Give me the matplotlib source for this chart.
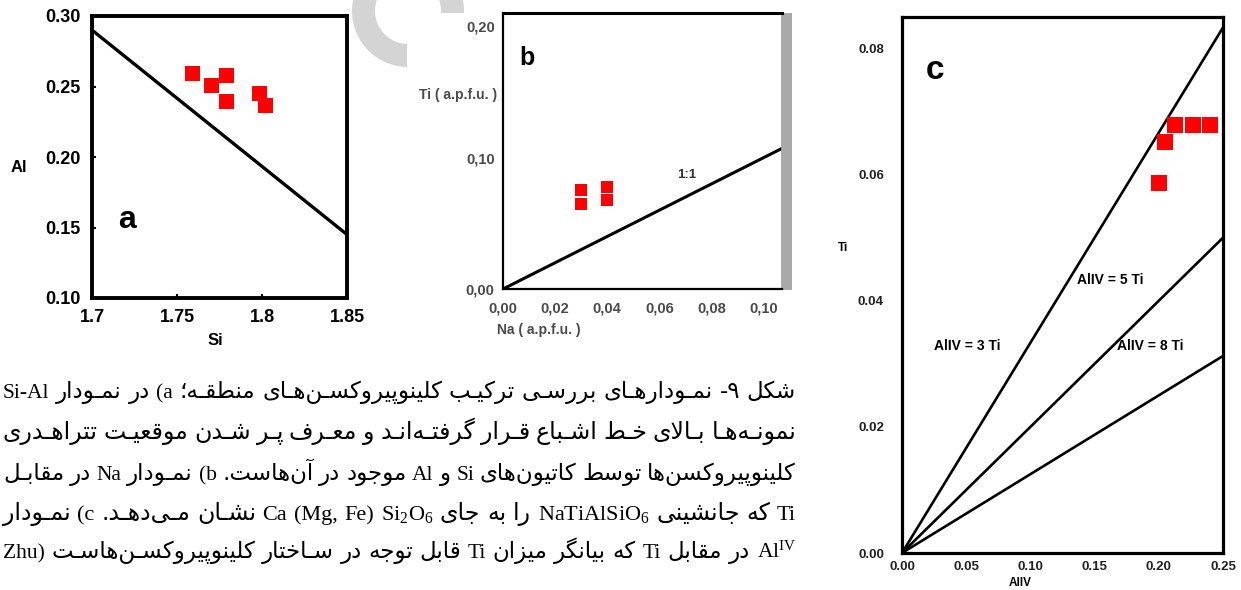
import matplotlib
matplotlib.use('Agg')
import matplotlib.pyplot as plt
from matplotlib.patches import Rectangle, Wedge
from matplotlib.transforms import IdentityTransform

W, H = 1241, 590

plt.rcParams['font.family'] = ['Liberation Sans', 'DejaVu Sans']
plt.rcParams['mathtext.fontset'] = 'custom'
plt.rcParams['mathtext.rm'] = 'Liberation Serif'
plt.rcParams['mathtext.it'] = 'Liberation Serif:italic'

# (a) Si vs Al with the saturation line
si = [1.759, 1.770, 1.779, 1.779, 1.798, 1.802]
al = [0.2595, 0.2513, 0.2581, 0.2394, 0.2457, 0.2368]
sat_si = [1.70, 1.85]
sat_al = [0.290, 0.145]
a_xticks = [1.7, 1.75, 1.8, 1.85]
a_xlabels = ['1.7', '1.75', '1.8', '1.85']
a_yticks = [0.10, 0.15, 0.20, 0.25, 0.30]
a_ylabels = ['0.10', '0.15', '0.20', '0.25', '0.30']

# (b) Na vs Ti (a.p.f.u.) with the 1:1 line
na = [0.030, 0.030, 0.040, 0.040]
ti_b = [0.0755, 0.0643, 0.0774, 0.0677]
one_to_one = [0.0, 0.107]
b_xticks = [0.00, 0.02, 0.04, 0.06, 0.08, 0.10]
b_xlabels = ['0,00', '0,02', '0,04', '0,06', '0,08', '0,10']
b_yticks = [0.00, 0.10, 0.20]
b_ylabels = ['0,00', '0,10', '0,20']

# (c) AlIV vs Ti with AlIV = n Ti reference lines
aliv = [0.213, 0.227, 0.240, 0.205, 0.200]
ti_c = [0.0678, 0.0679, 0.0679, 0.0651, 0.0587]
ratios = [3, 5, 8]
c_xticks = [0.00, 0.05, 0.10, 0.15, 0.20, 0.25]
c_yticks = [0.00, 0.02, 0.04, 0.06, 0.08]

# caption, logical order, split into rtl / ltr runs
caption = [
    [('fa', 'شکل ۹- نمـودارهـای بررسـی ترکیـب کلینوپیروکسـن‌هـای منطقـه؛ '), ('en', 'a'),
     ('fa', ') در نمـودار '), ('en', 'Si-Al')],
    [('fa', 'نمونـه‌هـا بـالای خـط اشـباع قـرار گرفتـه‌انـد و معـرف پـر شـدن موقعیـت تتراهـدری')],
    [('fa', 'کلینوپیروکسن‌ها توسط کاتیون‌های '), ('en', 'Si'), ('fa', ' و '), ('en', 'Al'),
     ('fa', ' موجود در آن‌هاست. '), ('en', 'b'), ('fa', ') نمـودار '), ('en', 'Na'),
     ('fa', ' در مقابـل')],
    [('en', 'Ti'), ('fa', ' که جانشینی '), ('en', r'NaTiAlSiO$_6$'), ('fa', ' را به جای '),
     ('en', r'Ca (Mg, Fe) Si$_2$O$_6$'), ('fa', ' نشـان مـی‌دهـد. '), ('en', 'c'),
     ('fa', ') نمـودار')],
    [('en', r'Al$^{\mathrm{IV}}$'), ('fa', ' در مقابل '), ('en', 'Ti'), ('fa', ' که بیانگر میزان '),
     ('en', 'Ti'), ('fa', ' قابل توجه در سـاختار کلینوپیروکسـن‌هاسـت  ('), ('en', 'Zhu')],
]
caption_baselines = [398, 439, 480, 520, 558]

# isolated, final, initial, medial presentation forms
FORMS = {
    0x0622: (0xFE81, 0xFE82, None, None),
    0x0627: (0xFE8D, 0xFE8E, None, None),
    0x0628: (0xFE8F, 0xFE90, 0xFE91, 0xFE92),
    0x067E: (0xFB56, 0xFB57, 0xFB58, 0xFB59),
    0x062A: (0xFE95, 0xFE96, 0xFE97, 0xFE98),
    0x062B: (0xFE99, 0xFE9A, 0xFE9B, 0xFE9C),
    0x062C: (0xFE9D, 0xFE9E, 0xFE9F, 0xFEA0),
    0x0686: (0xFB7A, 0xFB7B, 0xFB7C, 0xFB7D),
    0x062D: (0xFEA1, 0xFEA2, 0xFEA3, 0xFEA4),
    0x062E: (0xFEA5, 0xFEA6, 0xFEA7, 0xFEA8),
    0x062F: (0xFEA9, 0xFEAA, None, None),
    0x0630: (0xFEAB, 0xFEAC, None, None),
    0x0631: (0xFEAD, 0xFEAE, None, None),
    0x0632: (0xFEAF, 0xFEB0, None, None),
    0x0698: (0xFB8A, 0xFB8B, None, None),
    0x0633: (0xFEB1, 0xFEB2, 0xFEB3, 0xFEB4),
    0x0634: (0xFEB5, 0xFEB6, 0xFEB7, 0xFEB8),
    0x0635: (0xFEB9, 0xFEBA, 0xFEBB, 0xFEBC),
    0x0636: (0xFEBD, 0xFEBE, 0xFEBF, 0xFEC0),
    0x0637: (0xFEC1, 0xFEC2, 0xFEC3, 0xFEC4),
    0x0638: (0xFEC5, 0xFEC6, 0xFEC7, 0xFEC8),
    0x0639: (0xFEC9, 0xFECA, 0xFECB, 0xFECC),
    0x063A: (0xFECD, 0xFECE, 0xFECF, 0xFED0),
    0x0641: (0xFED1, 0xFED2, 0xFED3, 0xFED4),
    0x0642: (0xFED5, 0xFED6, 0xFED7, 0xFED8),
    0x06A9: (0xFB8E, 0xFB8F, 0xFB90, 0xFB91),
    0x06AF: (0xFB92, 0xFB93, 0xFB94, 0xFB95),
    0x0644: (0xFEDD, 0xFEDE, 0xFEDF, 0xFEE0),
    0x0645: (0xFEE1, 0xFEE2, 0xFEE3, 0xFEE4),
    0x0646: (0xFEE5, 0xFEE6, 0xFEE7, 0xFEE8),
    0x0648: (0xFEED, 0xFEEE, None, None),
    0x0647: (0xFEE9, 0xFEEA, 0xFEEB, 0xFEEC),
    0x06CC: (0xFBFC, 0xFBFD, 0xFBFE, 0xFBFF),
    0x0640: (0x0640, 0x0640, 0x0640, 0x0640),
}
LAM_ALEF = {'ا': (0xFEFB, 0xFEFC), 'آ': (0xFEF5, 0xFEF6)}
MIRROR = {'(': ')', ')': '('}


def joins_next(c):
    f = FORMS.get(ord(c)) if c else None
    return f is not None and f[2] is not None


def shape_fa(text):
    out = []
    i, n = 0, len(text)
    while i < n:
        c = text[i]
        f = FORMS.get(ord(c))
        if f is None:
            if c != '\u200c':
                out.append(c)
            i += 1
            continue
        link_prev = i > 0 and joins_next(text[i - 1])
        nxt = text[i + 1] if i + 1 < n else ''
        if c == 'ل' and nxt in LAM_ALEF:
            out.append(chr(LAM_ALEF[nxt][1 if link_prev else 0]))
            i += 2
            continue
        link_next = f[2] is not None and nxt != '' and ord(nxt) in FORMS
        if link_prev and link_next:
            out.append(chr(f[3]))
        elif link_prev:
            out.append(chr(f[1]))
        elif link_next:
            out.append(chr(f[2]))
        else:
            out.append(chr(f[0]))
        i += 1
    return ''.join(MIRROR.get(c, c) for c in reversed(out))


def visual_line(segments):
    return ''.join(shape_fa(s) if lang == 'fa' else s for lang, s in reversed(segments))


def is_arabic(tok):
    return any(0x0600 <= ord(c) <= 0x06FF or 0xFB50 <= ord(c) <= 0xFEFF for c in tok)


def px_rect(l, t, r, b):
    return [l / W, 1 - b / H, (r - l) / W, (b - t) / H]


fig = plt.figure(figsize=(W / 100, H / 100), dpi=100)
fig.patch.set_facecolor('white')

# faint watermark ring, partly covered by the (b) image box
fig.patches.append(Wedge((408, H - 11), 56, 0, 360, width=23, transform=IdentityTransform(),
                         facecolor='#d4d4d4', edgecolor='none', zorder=0))
fig.patches.append(Rectangle((407, H - 345), 393, 332, transform=IdentityTransform(),
                             facecolor='white', edgecolor='none', zorder=1))
fig.patches.append(Rectangle((783, H - 290), 9, 277, transform=IdentityTransform(),
                             facecolor='#a9a9a9', edgecolor='none', zorder=2))

# ---- (a)
ax = fig.add_axes(px_rect(92, 16, 347, 298))
ax.plot(sat_si, sat_al, color='black', lw=2.4, solid_capstyle='butt')
ax.plot(si, al, 's', color='#ff0000', ms=10.8, mew=0)
ax.set_xlim(1.7, 1.85)
ax.set_ylim(0.10, 0.30)
ax.set_xticks(a_xticks, a_xlabels)
ax.set_yticks(a_yticks, a_ylabels)
ax.tick_params(direction='in', length=3, width=1.5, labelsize=13, pad=8)
for lab in ax.get_xticklabels() + ax.get_yticklabels():
    lab.set_fontweight('bold')
for sp in ax.spines.values():
    sp.set_linewidth(2.8)
ax.text(-0.286, 0.461, 'Al', transform=ax.transAxes, fontsize=12, fontweight='bold',
        ha='center', va='center')
ax.text(0.482, -0.152, 'Si', transform=ax.transAxes, fontsize=12, fontweight='bold',
        ha='center', va='center')
ax.text(1.7206, 0.1496, 'a', fontsize=23, fontweight='bold', ha='center', va='baseline')

# ---- (b)
ax = fig.add_axes(px_rect(503, 13, 782, 289))
ax.set_zorder(3)
ax.plot(one_to_one, one_to_one, color='black', lw=2.2, solid_capstyle='butt')
ax.plot(na, ti_b, 's', color='#ff0000', ms=8.8, mew=0)
ax.set_xlim(0, 0.107)
ax.set_ylim(0, 0.21)
ax.set_xticks(b_xticks, b_xlabels)
ax.set_yticks(b_yticks, b_ylabels)
ax.tick_params(length=0, labelsize=10.5, labelcolor='#4a4a4a', pad=6)
ax.tick_params(axis='x', pad=9)
for lab in ax.get_xticklabels() + ax.get_yticklabels():
    lab.set_fontweight('bold')
for side in ('left', 'bottom', 'top'):
    ax.spines[side].set_linewidth(1.6)
ax.spines['top'].set_linewidth(2.2)
ax.spines['right'].set_color('#9a9a9a')
ax.spines['right'].set_linewidth(1.2)
ax.text(-0.022, 0.703, 'Ti ( a.p.f.u. )', transform=ax.transAxes, fontsize=10,
        fontweight='bold', color='#4a4a4a', ha='right', va='center')
ax.text(-0.022, -0.149, 'Na ( a.p.f.u. )', transform=ax.transAxes, fontsize=10,
        fontweight='bold', color='#4a4a4a', ha='left', va='center')
ax.text(0.0706, 0.0867, '1:1', fontsize=9.5, fontweight='bold', color='#333333',
        ha='center', va='center')
ax.text(0.0092, 0.1704, 'b', fontsize=18, fontweight='bold', ha='center', va='baseline')

# ---- (c)
ax = fig.add_axes(px_rect(902, 17, 1223, 553))
for r in ratios:
    ax.plot([0, 0.25], [0, 0.25 / r], color='black', lw=1.9, solid_capstyle='butt')
ax.plot(aliv, ti_c, 's', color='#ff0000', ms=11.5, mew=0)
ax.set_xlim(0, 0.25)
ax.set_ylim(0, 0.085)
ax.set_xticks(c_xticks, [f'{v:.2f}' for v in c_xticks])
ax.set_yticks(c_yticks, [f'{v:.2f}' for v in c_yticks])
ax.tick_params(length=0, labelsize=9.5, labelcolor='#222222')
ax.tick_params(axis='y', pad=13)
ax.tick_params(axis='x', pad=6)
for lab in ax.get_xticklabels() + ax.get_yticklabels():
    lab.set_fontweight('bold')
for sp in ax.spines.values():
    sp.set_linewidth(2.3)
for label, x, y in [('AlIV = 3 Ti', 0.0506, 0.0328), ('AlIV = 5 Ti', 0.162, 0.0433),
                    ('AlIV = 8 Ti', 0.193, 0.0328)]:
    ax.text(x, y, label, fontsize=10, fontweight='bold', ha='center', va='center')
ax.text(-0.184, 0.569, 'Ti', transform=ax.transAxes, fontsize=8.5, fontweight='bold',
        ha='center', va='center')
ax.text(0.368, -0.056, 'AlIV', transform=ax.transAxes, fontsize=8.5, fontweight='bold',
        ha='center', va='center')
ax.text(0.0257, 0.0752, 'c', fontsize=24, fontweight='bold', ha='center', va='baseline')

# ---- caption, justified between left and right edges
renderer = fig.canvas.get_renderer()
x_left, x_right = 3, 796
for segs, base in zip(caption, caption_baselines):
    tokens = [t for t in visual_line(segs).split(' ') if t]
    scale = 1.0
    while True:
        texts = []
        for tok in tokens:
            if is_arabic(tok):
                t = fig.text(0, 1 - base / H, tok, fontsize=17 * scale, family=['DejaVu Sans'],
                             va='baseline', ha='left')
            else:
                t = fig.text(0, 1 - base / H, tok, fontsize=16 * scale,
                             family=['Liberation Serif', 'DejaVu Sans'], va='baseline', ha='left')
            texts.append(t)
        widths = [t.get_window_extent(renderer).width for t in texts]
        gap = (x_right - x_left - sum(widths)) / max(len(texts) - 1, 1)
        if gap >= 5 or scale < 0.7:
            break
        for t in texts:
            t.remove()
        scale *= 0.97
    x = x_left
    for t, w in zip(texts, widths):
        t.set_x(x / W)
        x += w + gap

fig.savefig('out.png', dpi=100)
